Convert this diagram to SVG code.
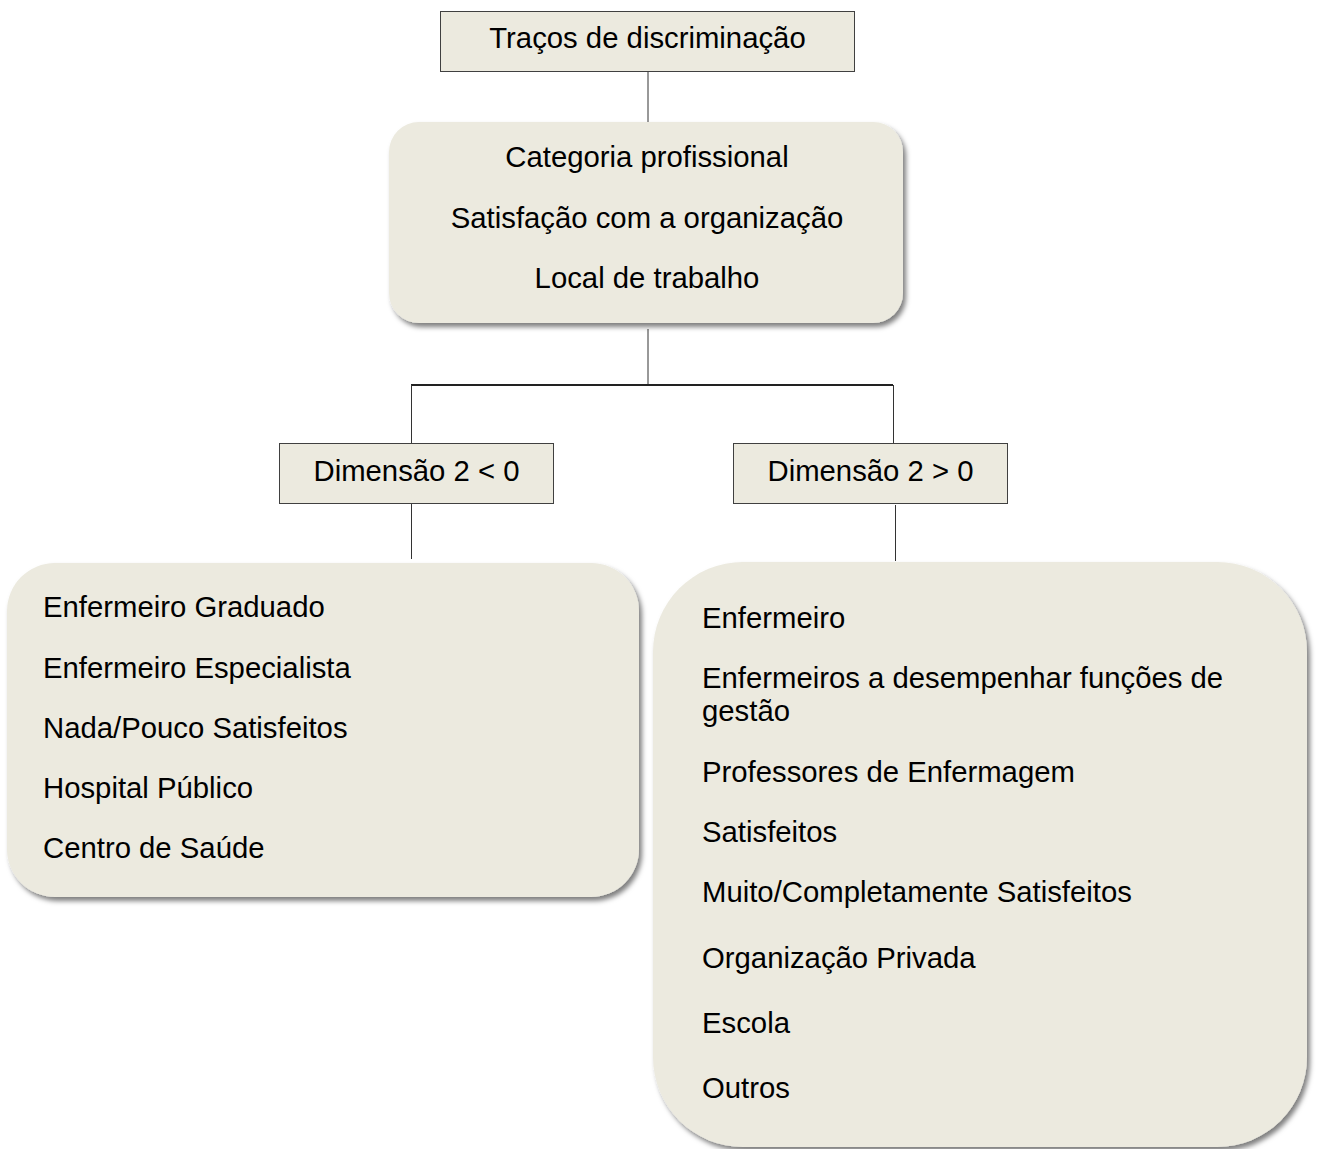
<svg xmlns="http://www.w3.org/2000/svg" width="1317" height="1149" viewBox="0 0 1317 1149">
<defs>
<filter id="sh" x="-5%" y="-5%" width="112%" height="115%">
<feDropShadow dx="3" dy="4" stdDeviation="2.5" flood-color="#000" flood-opacity="0.5"/>
</filter>
<style>
.box{fill:#ECEADF;stroke:#404040;stroke-width:1}
.rbox{fill:#ECEADF;filter:url(#sh)}
.t{font-family:"Liberation Sans",Arial,sans-serif;font-size:29.3px;fill:#000}
.c{text-anchor:middle}
.ln{stroke:#333;stroke-width:1;fill:none}
</style>
</defs>
<rect width="1317" height="1149" fill="#fff"/>
<g id="connectors">
<line class="ln" x1="648" y1="71" x2="648" y2="122"/>
<line class="ln" x1="648" y1="329" x2="648" y2="385"/>
<line x1="411" y1="385" x2="893" y2="385" stroke="#222" stroke-width="2"/>
<line class="ln" x1="411.5" y1="385" x2="411.5" y2="443"/>
<line class="ln" x1="893.5" y1="385" x2="893.5" y2="443"/>
<line class="ln" x1="411.5" y1="503" x2="411.5" y2="559"/>
<line class="ln" x1="895.5" y1="505" x2="895.5" y2="561"/>
</g>
<g id="n-tracos">
<rect class="box" x="440.5" y="11.5" width="414" height="60"/>
<text class="t c" x="647.5" y="48">Traços de discriminação</text>
</g>
<g id="n-vars">
<rect class="rbox" x="389" y="122" width="514" height="201" rx="30" ry="30"/>
<text class="t c" x="647" y="167">Categoria profissional</text>
<text class="t c" x="647" y="228">Satisfação com a organização</text>
<text class="t c" x="647" y="288">Local de trabalho</text>
</g>
<g id="n-dim-neg">
<rect class="box" x="279.5" y="443.5" width="274" height="60"/>
<text class="t c" x="416.5" y="481">Dimensão 2 &lt; 0</text>
</g>
<g id="n-dim-pos">
<rect class="box" x="733.5" y="443.5" width="274" height="60"/>
<text class="t c" x="870.5" y="481">Dimensão 2 &gt; 0</text>
</g>
<g id="n-left">
<rect class="rbox" x="7" y="563" width="632" height="334" rx="48" ry="48"/>
<text class="t" x="43" y="617">Enfermeiro Graduado</text>
<text class="t" x="43" y="678">Enfermeiro Especialista</text>
<text class="t" x="43" y="738">Nada/Pouco Satisfeitos</text>
<text class="t" x="43" y="798">Hospital Público</text>
<text class="t" x="43" y="858">Centro de Saúde</text>
</g>
<g id="n-right">
<rect class="rbox" x="653" y="562" width="654" height="585" rx="90" ry="90"/>
<text class="t" x="702" y="628">Enfermeiro</text>
<text class="t" x="702" y="688">Enfermeiros a desempenhar funções de</text>
<text class="t" x="702" y="721">gestão</text>
<text class="t" x="702" y="782">Professores de Enfermagem</text>
<text class="t" x="702" y="842">Satisfeitos</text>
<text class="t" x="702" y="902">Muito/Completamente Satisfeitos</text>
<text class="t" x="702" y="968">Organização Privada</text>
<text class="t" x="702" y="1033">Escola</text>
<text class="t" x="702" y="1098">Outros</text>
</g>
</svg>
